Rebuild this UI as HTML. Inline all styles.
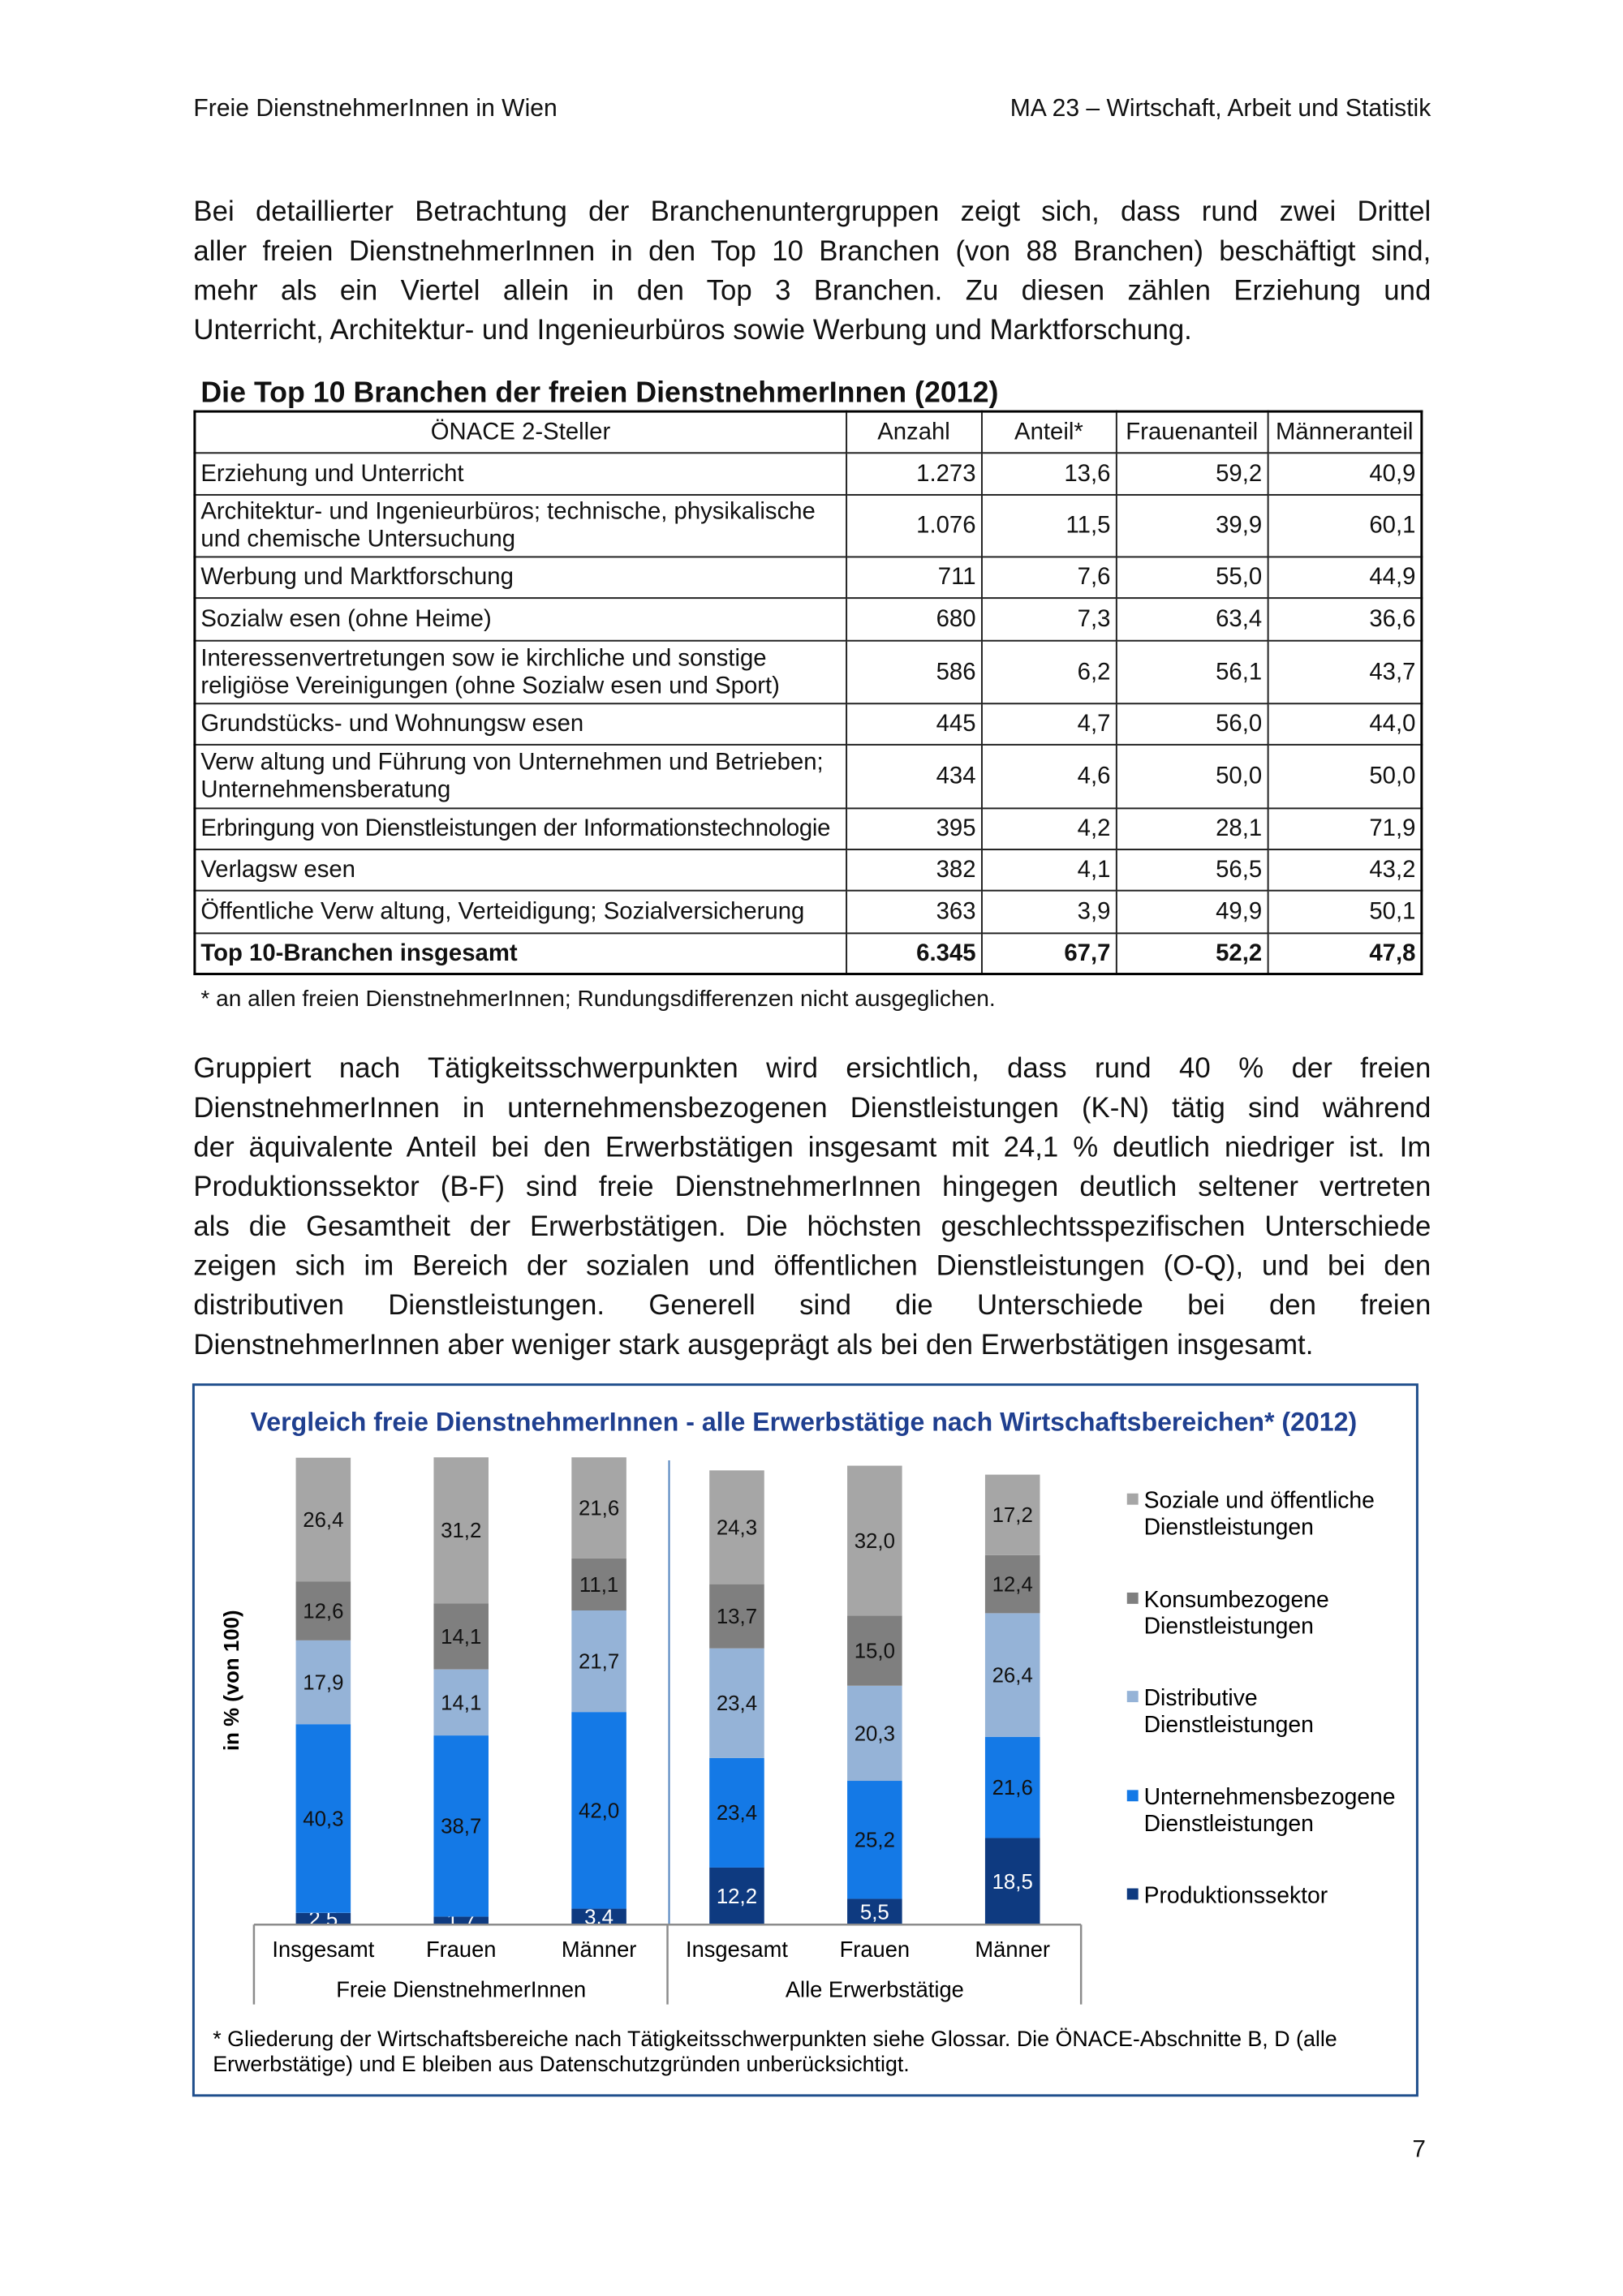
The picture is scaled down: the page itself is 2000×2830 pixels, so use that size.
<!DOCTYPE html>
<html><head><meta charset="utf-8">
<style>
body{margin:0;width:2000px;height:2830px;background:#fff;position:relative;font-family:"Liberation Sans",Arial,sans-serif;color:#111;overflow:hidden}
#w{position:absolute;left:0;top:0;width:2000px;height:2830px;transform:scale(0.9934);transform-origin:0 0}
.a{position:absolute;white-space:nowrap}
.p{position:absolute;left:240px;width:1535px;font-size:35px;}
.p div{height:49px;line-height:49px;text-align:justify;text-align-last:justify;white-space:nowrap}
.p div.l{text-align-last:left}
table{position:absolute;left:240px;top:509px;border-collapse:collapse;font-size:29.5px;table-layout:fixed}
td{border:2px solid #222;padding:0 6px;line-height:34px;vertical-align:middle;overflow:hidden;white-space:nowrap}
td.n{text-align:right}
</style></head><body><div id="w">
<div class="a" style="left:240px;top:118px;font-size:30.3px">Freie DienstnehmerInnen in Wien</div>
<div class="a" style="right:225px;top:118px;font-size:30.3px">MA 23 – Wirtschaft, Arbeit und Statistik</div>

<div class="p" style="top:238px">
<div>Bei detaillierter Betrachtung der Branchenuntergruppen zeigt sich, dass rund zwei Drittel</div>
<div>aller freien DienstnehmerInnen in den Top 10 Branchen (von 88 Branchen) beschäftigt sind,</div>
<div>mehr als ein Viertel allein in den Top 3 Branchen. Zu diesen zählen Erziehung und</div>
<div class="l">Unterricht, Architektur- und Ingenieurbüros sowie Werbung und Marktforschung.</div>
</div>

<div class="a" style="left:249px;top:466px;font-size:36px;font-weight:bold">Die Top 10 Branchen der freien DienstnehmerInnen (2012)</div>
<table style="border:3px solid #000">
<colgroup><col style="width:808px"><col style="width:168px"><col style="width:167px"><col style="width:188px"><col style="width:191px"></colgroup>
<tr style="height:51px"><td style="text-align:center">ÖNACE 2-Steller</td><td style="text-align:center">Anzahl</td><td style="text-align:center">Anteil*</td><td style="text-align:center">Frauenanteil</td><td style="text-align:center">Männeranteil</td></tr>
<tr style="height:52px"><td>Erziehung und Unterricht</td><td class="n">1.273</td><td class="n">13,6</td><td class="n">59,2</td><td class="n">40,9</td></tr>
<tr style="height:77px"><td>Architektur- und Ingenieurbüros; technische, physikalische<br>und chemische Untersuchung</td><td class="n">1.076</td><td class="n">11,5</td><td class="n">39,9</td><td class="n">60,1</td></tr>
<tr style="height:51px"><td>Werbung und Marktforschung</td><td class="n">711</td><td class="n">7,6</td><td class="n">55,0</td><td class="n">44,9</td></tr>
<tr style="height:53px"><td>Sozialw esen (ohne Heime)</td><td class="n">680</td><td class="n">7,3</td><td class="n">63,4</td><td class="n">36,6</td></tr>
<tr style="height:78px"><td>Interessenvertretungen sow ie kirchliche und sonstige<br>religiöse Vereinigungen (ohne Sozialw esen und Sport)</td><td class="n">586</td><td class="n">6,2</td><td class="n">56,1</td><td class="n">43,7</td></tr>
<tr style="height:51px"><td>Grundstücks- und Wohnungsw esen</td><td class="n">445</td><td class="n">4,7</td><td class="n">56,0</td><td class="n">44,0</td></tr>
<tr style="height:79px"><td>Verw altung und Führung von Unternehmen und Betrieben;<br>Unternehmensberatung</td><td class="n">434</td><td class="n">4,6</td><td class="n">50,0</td><td class="n">50,0</td></tr>
<tr style="height:51px"><td style="letter-spacing:-0.3px">Erbringung von Dienstleistungen der Informationstechnologie</td><td class="n">395</td><td class="n">4,2</td><td class="n">28,1</td><td class="n">71,9</td></tr>
<tr style="height:51px"><td>Verlagsw esen</td><td class="n">382</td><td class="n">4,1</td><td class="n">56,5</td><td class="n">43,2</td></tr>
<tr style="height:53px"><td>Öffentliche Verw altung, Verteidigung; Sozialversicherung</td><td class="n">363</td><td class="n">3,9</td><td class="n">49,9</td><td class="n">50,1</td></tr>
<tr style="height:51px;font-weight:bold"><td>Top 10-Branchen insgesamt</td><td class="n">6.345</td><td class="n">67,7</td><td class="n">52,2</td><td class="n">47,8</td></tr>
</table>
<div class="a" style="left:249px;top:1222px;font-size:28.3px">* an allen freien DienstnehmerInnen; Rundungsdifferenzen nicht ausgeglichen.</div>

<div class="p" style="top:1301px">
<div>Gruppiert nach Tätigkeitsschwerpunkten wird ersichtlich, dass rund 40 % der freien</div>
<div>DienstnehmerInnen in unternehmensbezogenen Dienstleistungen (K-N) tätig sind während</div>
<div>der äquivalente Anteil bei den Erwerbstätigen insgesamt mit 24,1 % deutlich niedriger ist. Im</div>
<div>Produktionssektor (B-F) sind freie DienstnehmerInnen hingegen deutlich seltener vertreten</div>
<div>als die Gesamtheit der Erwerbstätigen. Die höchsten geschlechtsspezifischen Unterschiede</div>
<div>zeigen sich im Bereich der sozialen und öffentlichen Dienstleistungen (O-Q), und bei den</div>
<div>distributiven Dienstleistungen. Generell sind die Unterschiede bei den freien</div>
<div class="l">DienstnehmerInnen aber weniger stark ausgeprägt als bei den Erwerbstätigen insgesamt.</div>
</div>

<svg class="a" style="left:0;top:0" width="2000" height="2830" font-family="Liberation Sans, Arial, sans-serif">
<rect x="240" y="1718" width="1518" height="882" fill="none" stroke="#1f4e8c" stroke-width="3"/>
<text x="997" y="1775" text-anchor="middle" font-size="32.3" font-weight="bold" fill="#1f3f8f">Vergleich freie DienstnehmerInnen - alle Erwerbstätige nach Wirtschaftsbereichen* (2012)</text>
<text transform="translate(296,2085) rotate(-90)" text-anchor="middle" font-size="26" font-weight="bold">in % (von 100)</text>
<g id="bars"></g>
<line x1="830" y1="1812" x2="830" y2="2388" stroke="#4f81bd" stroke-width="2"/>
<g stroke="#8c8c8c" stroke-width="2.5" fill="none">
<line x1="315" y1="2388" x2="1341" y2="2388"/>
<line x1="315" y1="2388" x2="315" y2="2487"/>
<line x1="828" y1="2388" x2="828" y2="2487"/>
<line x1="1341" y1="2388" x2="1341" y2="2487"/>
</g>
<g font-size="27.5" text-anchor="middle">
<text x="401" y="2428">Insgesamt</text><text x="572" y="2428">Frauen</text><text x="743" y="2428">Männer</text>
<text x="914" y="2428">Insgesamt</text><text x="1085" y="2428">Frauen</text><text x="1256" y="2428">Männer</text>
<text x="572" y="2478">Freie DienstnehmerInnen</text><text x="1085" y="2478">Alle Erwerbstätige</text>
</g>
<g font-size="27">
<text x="264" y="2539">* Gliederung der Wirtschaftsbereiche nach Tätigkeitsschwerpunkten siehe Glossar. Die ÖNACE-Abschnitte B, D (alle</text>
<text x="264" y="2570">Erwerbstätige) und  E bleiben aus Datenschutzgründen unberücksichtigt.</text>
</g>
<g font-size="28.5">
<rect x="1398" y="1853" width="14" height="14" fill="#a6a6a6"/><text x="1419" y="1871">Soziale und öffentliche</text><text x="1419" y="1904">Dienstleistungen</text>
<rect x="1398" y="1976" width="14" height="14" fill="#7f7f7f"/><text x="1419" y="1994">Konsumbezogene</text><text x="1419" y="2027">Dienstleistungen</text>
<rect x="1398" y="2098" width="14" height="14" fill="#95b3d7"/><text x="1419" y="2116">Distributive</text><text x="1419" y="2149">Dienstleistungen</text>
<rect x="1398" y="2221" width="14" height="14" fill="#1479e6"/><text x="1419" y="2239">Unternehmensbezogene</text><text x="1419" y="2272">Dienstleistungen</text>
<rect x="1398" y="2343" width="14" height="14" fill="#0e3a80"/><text x="1419" y="2361">Produktionssektor</text>
</g>
</svg>
<div class="a" style="left:1752px;top:2650px;font-size:30px">7</div>
</div>
<script>
var d=[[2.5,40.3,17.9,12.6,26.4],[1.7,38.7,14.1,14.1,31.2],[3.4,42.0,21.7,11.1,21.6],[12.2,23.4,23.4,13.7,24.3],[5.5,25.2,20.3,15.0,32.0],[18.5,21.6,26.4,12.4,17.2]];
var c=["#0e3a80","#1479e6","#95b3d7","#7f7f7f","#a6a6a6"];
var xs=[367,538,709,880,1051,1222],s=5.81,base=2388,h="";
for(var i=0;i<6;i++){var y=base;for(var j=0;j<5;j++){var hh=d[i][j]*s;y-=hh;
h+='<rect x="'+xs[i]+'" y="'+y.toFixed(1)+'" width="68" height="'+hh.toFixed(1)+'" fill="'+c[j]+'"/>';
h+='<text x="'+(xs[i]+34)+'" y="'+(y+hh/2+9).toFixed(1)+'" text-anchor="middle" font-size="26" fill="'+(j==0?'#fff':'#111')+'">'+d[i][j].toFixed(1).replace('.',',')+'</text>';}}
document.getElementById('bars').innerHTML=h;
</script>
</body></html>
